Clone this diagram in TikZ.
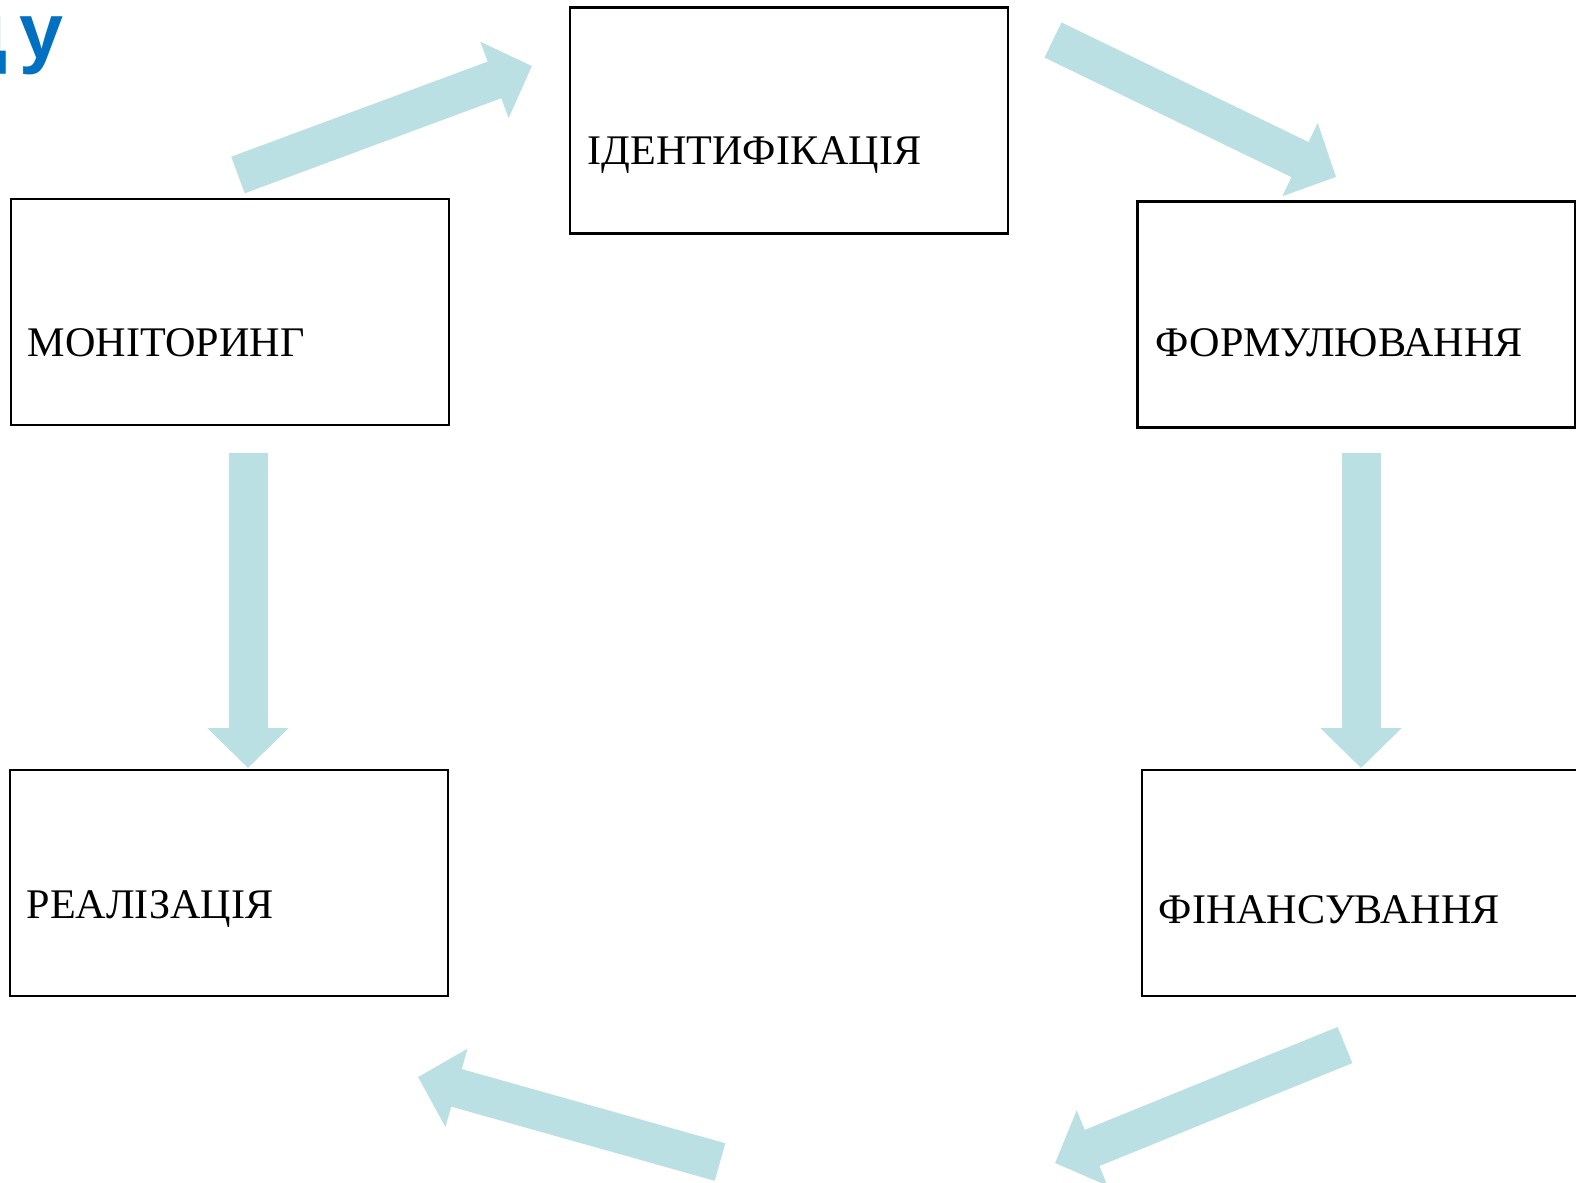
\documentclass[tikz,border=0pt]{standalone}
\usepackage{fontspec}
\setmainfont{Liberation Serif}
\newfontfamily\headfont{Liberation Sans}
\usetikzlibrary{arrows.meta}

\definecolor{flowblue}{RGB}{187,224,227}
\definecolor{headblue}{RGB}{0,112,192}

\tikzset{
  stage/.style={draw, line width=0.6pt, minimum width=4.38cm, minimum height=2.26cm, inner sep=0pt},
  stagetext/.style={anchor=base west, inner sep=0pt, font=\fontsize{12}{14}\selectfont},
  flow/.style={flowblue, line width=0.39cm, -{Triangle[length=0.40cm, width=0.79cm]}}
}

\begin{document}
\begin{tikzpicture}[x=0.1mm, y=-0.1mm]

    \useasboundingbox (0,0) rectangle (1576,1182);
    \clip (0,0) rectangle (1576,1182);

    % title remnant at the top left corner
    \node[anchor=base east, inner sep=0pt, text=headblue,
          font=\headfont\bfseries\fontsize{22.5}{26}\selectfont] (title) at (64,58) {д\kern0.15emу};

    % the five stages
    \node[stage] (ident)  at (789,120.5) {};
    \node[stage] (formul) at (1356.5,314.5) {};
    \node[stage] (finans) at (1361,883) {};
    \node[stage] (real)   at (229,883) {};
    \node[stage] (monit)  at (230,312) {};

    \node[stagetext] (identtxt)  at (587,164)  {ІДЕНТИФІКАЦІЯ};
    \node[stagetext] (formultxt) at (1155,356) {ФОРМУЛЮВАННЯ};
    \node[stagetext] (finanstxt) at (1158,923) {ФІНАНСУВАННЯ};
    \node[stagetext] (realtxt)   at (26,918)   {РЕАЛІЗАЦІЯ};
    \node[stagetext] (monittxt)  at (27,356)   {МОНІТОРИНГ};

    % ends of the block arrows
    \coordinate (a1) at (238,175);   \coordinate (b1) at (532,66);
    \coordinate (a2) at (1053,40);   \coordinate (b2) at (1336,177);
    \coordinate (a3) at (1361,453);  \coordinate (b3) at (1361,768);
    \coordinate (a4) at (1345,1045); \coordinate (b4) at (1055,1163);
    \coordinate (a5) at (720,1162);  \coordinate (b5) at (418,1077);
    \coordinate (a6) at (248,453);   \coordinate (b6) at (248,768);

    \draw[flow] (a1) -- (b1);
    \draw[flow] (a2) -- (b2);
    \draw[flow] (a3) -- (b3);
    \draw[flow] (a4) -- (b4);
    \draw[flow] (a5) -- (b5);
    \draw[flow] (a6) -- (b6);

\end{tikzpicture}
\end{document}
